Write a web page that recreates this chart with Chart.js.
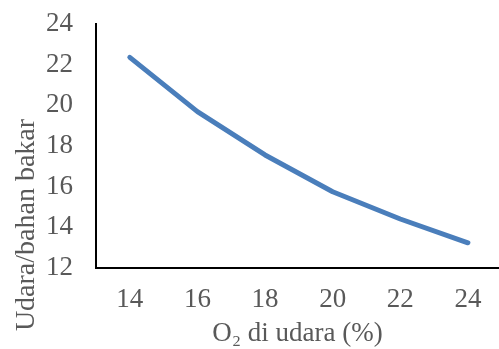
<!DOCTYPE html>
<html>
<head>
<meta charset="utf-8">
<script src="https://cdn.jsdelivr.net/npm/chart.js@4"></script>
<style>
  html, body { margin: 0; padding: 0; background: #fff; }
  canvas { display: block; }
</style>
</head>
<body>
<canvas id="chart" width="499" height="349"></canvas>
<script>
// kadar O2 di udara (%) dan rasio udara/bahan bakar
const o2Persen = [14, 16, 18, 20, 22, 24];
const rasioUdara = [22.36, 19.69, 17.56, 15.75, 14.41, 13.24];
const xTicks = [14, 16, 18, 20, 22, 24];
const yTicks = [12, 14, 16, 18, 20, 22, 24];
const judulX = 'O\u2082 di udara (%)';
const judulY = 'Udara/bahan bakar';

const abu = '#595959';
const hurufSerif = { family: "'Liberation Serif', 'Times New Roman', serif", size: 27, lineHeight: 1.1 };

// judul sumbu Y digambar sendiri supaya posisinya sama seperti di Excel (agak ke bawah)
const judulYPlugin = {
    id: 'judulY',
    afterDraw(chart) {
        const c = chart.ctx;
        c.save();
        c.translate(27, 225);
        c.rotate(-Math.PI / 2);
        c.fillStyle = abu;
        c.font = "28px 'Liberation Serif', 'Times New Roman', serif";
        c.textAlign = 'center';
        c.textBaseline = 'middle';
        c.fillText(judulY, 0, 0);
        c.restore();
    }
};

const ctx = document.getElementById('chart').getContext('2d');
new Chart(ctx, {
    type: 'line',
    data: {
        datasets: [{
            data: o2Persen.map((x, i) => ({ x: x, y: rasioUdara[i] })),
            borderColor: '#4a7ebb',
            borderWidth: 5,
            borderCapStyle: 'round',
            borderJoinStyle: 'round',
            pointRadius: 0,
            tension: 0,
            fill: false
        }]
    },
    options: {
        responsive: false,
        animation: false,
        layout: { padding: { top: 24, right: 0, bottom: 0, left: 0 } },
        plugins: { legend: { display: false }, tooltip: { enabled: false } },
        scales: {
            x: {
                type: 'linear',
                min: 13,
                max: 24.92,
                grid: { display: false },
                border: { display: true, color: '#000', width: 2 },
                afterBuildTicks: s => { s.ticks = xTicks.map(v => ({ value: v })); },
                afterFit: s => { s.height = 81; s.paddingLeft = 0; s.paddingRight = 0; },
                ticks: { color: abu, font: hurufSerif, padding: 9, maxRotation: 0 },
                title: {
                    display: true,
                    text: judulX,
                    color: abu,
                    font: hurufSerif,
                    padding: { top: 0, bottom: 0 }
                }
            },
            y: {
                min: 12,
                max: 24,
                grid: { display: false },
                border: { display: true, color: '#000', width: 2 },
                afterBuildTicks: s => { s.ticks = yTicks.map(v => ({ value: v })); },
                afterFit: s => { s.width = 96; s.paddingTop = 0; s.paddingBottom = 0; },
                ticks: { color: abu, font: hurufSerif, padding: 15 }
            }
        }
    },
    plugins: [judulYPlugin]
});
</script>
</body>
</html>
